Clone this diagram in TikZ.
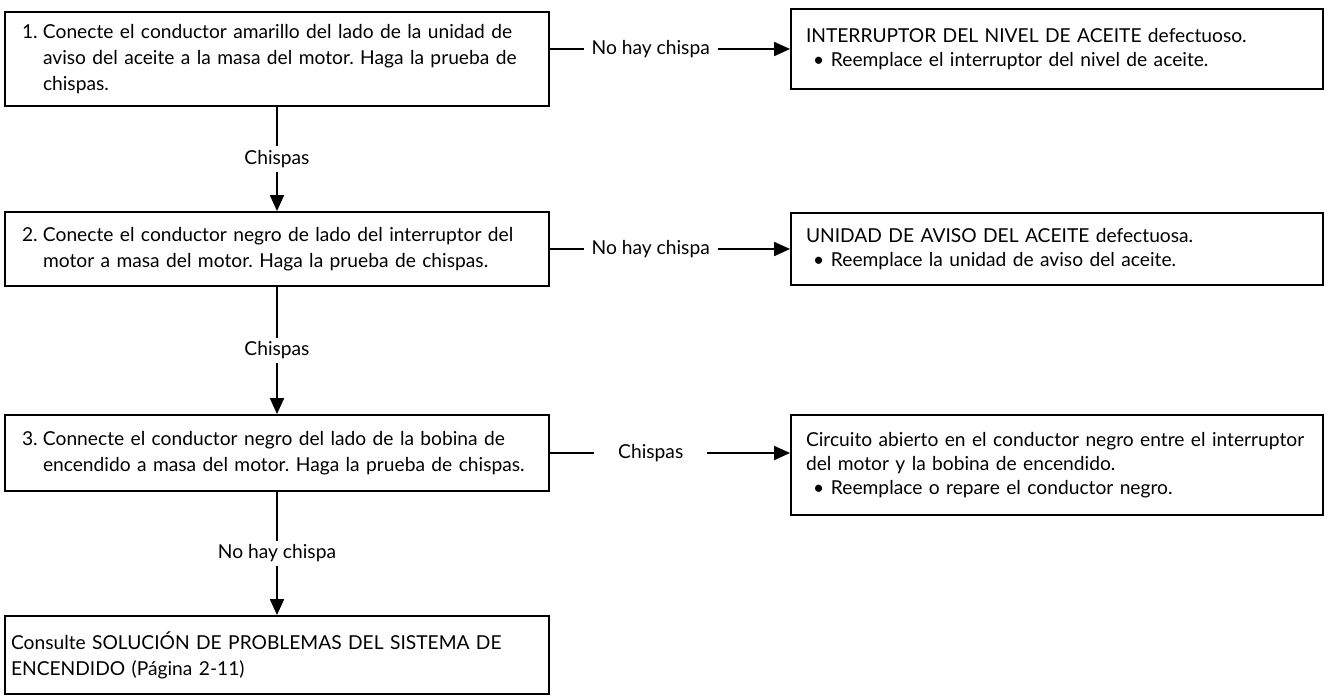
\documentclass[tikz,border=0pt]{standalone}
\usepackage{fontspec}
\setmainfont{Lato}
\usetikzlibrary{arrows.meta,positioning,calc}
\setlength{\parindent}{0pt}
\frenchspacing
\newlength{\numw}\setlength{\numw}{10.5pt}
\newcommand{\numitem}[1]{\makebox[\numw][l]{#1}}
\newcommand{\numcont}{\hspace*{\numw}}
\newcommand{\bul}{\hspace*{3.5pt}\makebox[9pt][l]{\textbullet}}
\tikzset{
  box/.style={draw, line width=0.9pt, inner ysep=0pt, font=\fontsize{9.6}{13}\selectfont, fill=white, align=left},
  stepn/.style={box, minimum width=272pt, text width=255pt, inner xsep=8.5pt},
  endn/.style={box, minimum width=272pt, text width=266pt, inner xsep=3pt},
  resn/.style={box, minimum width=266pt, text width=251pt, inner xsep=7.5pt, font=\fontsize{9.6}{12}\selectfont},
  pre/.style={-{Triangle[length=8pt,width=7pt]}, line width=0.9pt},
  lbl/.style={fill=white, font=\fontsize{9.6}{12}\selectfont, inner ysep=2pt, inner xsep=4pt},
}
\begin{document}
\begin{tikzpicture}[x=0.5pt,y=-0.5pt]
\useasboundingbox (0,0) rectangle (1329,696);
% ---------------- steps
\node[stepn, minimum height=47pt] (s1) at (277,59) {\numitem{1.}Conecte el conductor amarillo del lado de la unidad de\\ \numcont aviso del aceite a la masa del motor. Haga la prueba de\\ \numcont chispas.};
\node[stepn, minimum height=37pt] (s2) at (277,249) {\numitem{2.}Conecte el conductor negro de lado del interruptor del\\ \numcont motor a masa del motor. Haga la prueba de chispas.};
\node[stepn, minimum height=38pt] (s3) at (277,453) {\numitem{3.}Connecte el conductor negro del lado de la bobina de\\ \numcont encendido a masa del motor. Haga la prueba de chispas.};
\node[endn, minimum height=39pt] (s4) at (277,655) {Consulte SOLUCIÓN DE PROBLEMAS DEL SISTEMA DE\\ ENCENDIDO (Página 2-11)};
% ---------------- results
\node[resn, minimum height=40pt] (r1) at (1057,49) {INTERRUPTOR DEL NIVEL DE ACEITE defectuoso.\\ \bul Reemplace el interruptor del nivel de aceite.};
\node[resn, minimum height=36pt] (r2) at (1057,249) {UNIDAD DE AVISO DEL ACEITE defectuosa.\\ \bul Reemplace la unidad de aviso del aceite.};
\node[resn, minimum height=50pt] (r3) at (1057,465) {Circuito abierto en el conductor negro entre el interruptor\\ del motor y la bobina de encendido.\\ \bul Reemplace o repare el conductor negro.};
% ---------------- down the chain
\draw[pre] (s1) -- node[lbl] {Chispas} (s2);
\draw[pre] (s2) -- node[lbl] {Chispas} (s3);
\draw[pre] (s3) -- node[lbl] {No hay chispa} (s4);
% ---------------- to the right
\draw[pre] (s1.east |- r1.west) -- node[lbl, pos=0.42] {No hay chispa} (r1.west);
\draw[pre] (s2.east) -- node[lbl, pos=0.42] {No hay chispa} (s2.east -| r2.west);
\draw[pre] (s3.east) -- node[lbl, pos=0.42, inner xsep=12pt] {Chispas} (s3.east -| r3.west);
\end{tikzpicture}
\end{document}
